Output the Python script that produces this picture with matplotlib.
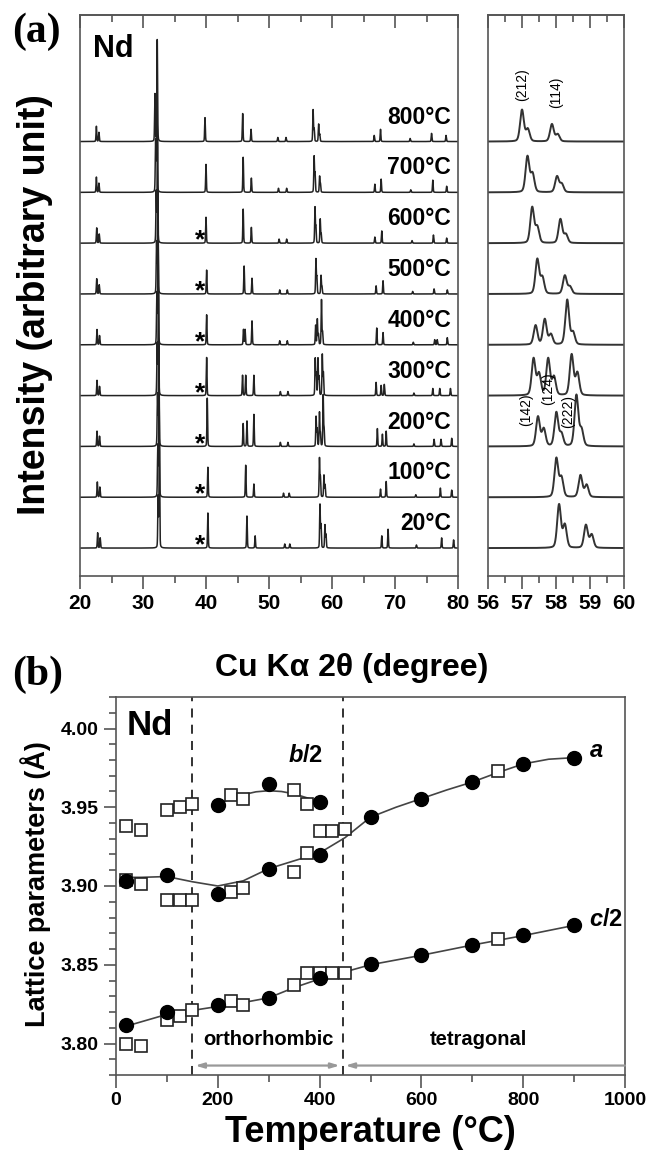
import numpy as np
import matplotlib
matplotlib.use("Agg")
import matplotlib.pyplot as plt
from matplotlib.ticker import MultipleLocator

plt.rcParams["font.family"] = ["Liberation Sans", "DejaVu Sans"]
plt.rcParams["font.weight"] = "bold"
plt.rcParams["mathtext.fontset"] = "custom"
plt.rcParams["mathtext.it"] = "Liberation Sans:italic:bold"
plt.rcParams["mathtext.rm"] = "Liberation Sans:bold"

# ---- (a) XRD patterns: peak position (deg 2theta), height (units of trace offset)
temps = ["20", "100", "200", "300", "400", "500", "600", "700", "800"]

peaks_20 = [(22.8, .3), (23.2, .2), (32.4, 1.0), (32.6, 2.0), (40.3, .69), (46.5, .63),
            (47.8, .24), (52.5, .08), (53.3, .08), (58.09, .85), (58.26, .45), (58.88, .45),
            (59.05, .26), (67.9, .24), (68.9, .37), (73.4, .06), (77.4, .2), (79.3, .16)]
peaks_100 = [(22.75, .3), (23.15, .2), (32.35, 1.0), (32.55, 2.0), (40.3, .59), (46.3, .63),
             (47.6, .26), (52.3, .08), (53.2, .08), (58.01, .76), (58.16, .38), (58.72, .43),
             (58.9, .24), (67.7, .16), (68.6, .31), (73.3, .05), (77.2, .18), (79.0, .14)]
peaks_200 = [(22.7, .3), (23.1, .2), (32.3, 1.0), (32.5, 2.0), (40.2, .95), (45.9, .45),
             (46.5, .5), (47.6, .63), (51.8, .08), (53.0, .08), (57.47, .58), (57.64, .34),
             (58.01, .66), (58.16, .24), (58.6, 1.0), (58.75, .32), (67.2, .35), (68.0, .24),
             (68.6, .3), (73.0, .05), (76.2, .14), (77.3, .14), (79.0, .16)]
peaks_300 = [(22.7, .3), (23.1, .18), (32.25, 1.0), (32.45, 2.0), (40.1, .75), (45.8, .4),
             (46.3, .4), (47.6, .4), (51.8, .08), (53.0, .08), (57.34, .72), (57.5, .42),
             (57.77, .72), (57.94, .36), (58.46, .8), (58.63, .44), (67.0, .26), (67.8, .2),
             (68.3, .22), (73.0, .05), (76.0, .14), (77.1, .14), (78.8, .14)]
peaks_400 = [(22.7, .3), (23.1, .18), (32.2, 1.0), (32.4, 2.0), (40.1, .59), (45.95, .3),
             (46.2, .3), (47.3, .47), (51.7, .08), (52.9, .08), (57.4, .38), (57.67, .5),
             (57.85, .2), (58.33, .88), (58.5, .24), (67.1, .33), (68.1, .24), (72.9, .05),
             (76.3, .1), (76.7, .1), (78.3, .14)]
peaks_500 = [(22.65, .3), (23.05, .18), (32.15, 1.0), (32.35, 2.0), (40.1, .47), (46.05, .55),
             (47.3, .31), (51.7, .08), (52.9, .08), (57.45, .68), (57.6, .32), (58.26, .36),
             (58.41, .14), (67.0, .16), (68.1, .26), (72.8, .05), (76.2, .1), (78.3, .08)]
peaks_600 = [(22.65, .3), (23.05, .18), (32.1, 1.0), (32.3, 2.0), (40.0, .51), (45.9, .67),
             (47.2, .31), (51.6, .08), (52.8, .08), (57.3, .7), (57.45, .31), (58.13, .47),
             (58.29, .17), (66.8, .12), (67.9, .24), (72.7, .05), (76.1, .16), (78.2, .1)]
peaks_700 = [(22.6, .3), (23.0, .18), (32.0, 1.0), (32.2, 2.0), (40.0, .55), (45.9, .69),
             (47.2, .28), (51.5, .08), (52.8, .08), (57.16, .7), (57.31, .36), (58.03, .31),
             (58.17, .16), (66.8, .16), (67.8, .26), (72.5, .05), (76.0, .24), (78.2, .12)]
peaks_800 = [(22.6, .3), (23.0, .18), (31.9, .93), (32.26, 2.0), (39.84, .47), (45.82, .55),
             (47.15, .24), (51.4, .08), (52.7, .08), (57.0, .62), (57.17, .24), (57.88, .34),
             (58.05, .14), (66.7, .12), (67.7, .24), (72.4, .06), (75.8, .16), (78.1, .12)]
all_peaks = [peaks_20, peaks_100, peaks_200, peaks_300, peaks_400,
             peaks_500, peaks_600, peaks_700, peaks_800]
star_temps = ["20", "100", "200", "300", "400", "500", "600"]

hkl_labels = ["(212)", "(114)", "(142)", "(124)", "(222)"]
hkl_x = [57.0, 58.0, 57.13, 57.77, 58.37]
hkl_y = [9.12, 8.96, 2.73, 3.14, 2.69]

# ---- (b) lattice parameters vs temperature
a_T = [20, 100, 200, 300, 400, 500, 600, 700, 800, 900]
a_val = [3.903, 3.907, 3.895, 3.911, 3.9195, 3.9437, 3.9555, 3.966, 3.9775, 3.9815]
b_T = [200, 300, 400]
b_val = [3.9517, 3.9647, 3.9534]
c_T = [20, 100, 200, 300, 400, 500, 600, 700, 800, 900]
c_val = [3.812, 3.8198, 3.8246, 3.8288, 3.8418, 3.8504, 3.8561, 3.8624, 3.8687, 3.8754]

sq_b_T = [20, 50, 100, 125, 150, 225, 250, 350, 375, 400, 425, 450, 750]
sq_b_val = [3.938, 3.9353, 3.948, 3.950, 3.952, 3.958, 3.9555, 3.9607, 3.952,
            3.935, 3.9347, 3.936, 3.9733]
sq_a_T = [20, 50, 100, 125, 150, 225, 250, 350, 375]
sq_a_val = [3.904, 3.901, 3.8908, 3.8908, 3.8912, 3.896, 3.8985, 3.9086, 3.9212]
sq_c_T = [20, 50, 100, 125, 150, 225, 250, 350, 375, 400, 425, 450, 750]
sq_c_val = [3.7994, 3.7983, 3.8151, 3.8172, 3.821, 3.8267, 3.8246, 3.8372, 3.8445,
            3.8445, 3.8445, 3.8445, 3.8662]

a_fit_T = [20, 50, 100, 150, 200, 250, 300, 350, 400, 450, 500, 550, 600, 650, 700,
           750, 800, 850, 900]
a_fit = [3.9055, 3.9055, 3.906, 3.9027, 3.900, 3.9033, 3.911, 3.916, 3.921, 3.9307,
         3.9437, 3.950, 3.9555, 3.961, 3.966, 3.972, 3.9775, 3.9805, 3.9815]
b_fit_T = [200, 225, 250, 275, 300, 325, 350, 375, 400]
b_fit = [3.9517, 3.9555, 3.958, 3.9598, 3.9605, 3.960, 3.9585, 3.956, 3.9534]
c_fit_T = [20, 100, 150, 200, 250, 300, 350, 400, 450, 500, 600, 700, 800, 900]
c_fit = [3.811, 3.8185, 3.821, 3.8235, 3.826, 3.829, 3.8355, 3.841, 3.8455, 3.850,
         3.856, 3.8625, 3.8685, 3.875]

T_ortho = 150
T_tetra = 445


def pattern(x, peaks, fwhm=0.13):
    y = np.zeros_like(x)
    s = fwhm / 2.3548
    g = fwhm / 2
    for pos, h in peaks:
        gau = np.exp(-0.5 * ((x - pos) / s) ** 2)
        lor = 1 / (1 + ((x - pos) / g) ** 2)
        y += h * (0.75 * gau + 0.25 * lor)
    return y


W, H = 649, 1157
fig = plt.figure(figsize=(W / 100, H / 100), dpi=100)
spc = "#555555"
ax1 = fig.add_axes([80 / W, 1 - 576 / H, 378 / W, 561 / H])
ax2 = fig.add_axes([488 / W, 1 - 576 / H, 136 / W, 561 / H])
ax3 = fig.add_axes([116 / W, 1 - 1075 / H, 509 / W, 378 / H])

xl = np.linspace(20, 80, 6001)
xr = np.linspace(56, 60, 2001)
for i, pk in enumerate(all_peaks):
    ax1.plot(xl, i + pattern(xl, pk), color="#222222", lw=1.1)
    ax2.plot(xr, i + pattern(xr, pk), color="#333333", lw=1.4)
    ax1.text(78.9, i + 0.48, temps[i] + "°C", ha="right", va="center", fontsize=16.5)
    if temps[i] in star_temps:
        ax1.text(39.1, i + 0.05, "*", ha="center", va="center", fontsize=19)
ax1.text(22.1, 9.83, "Nd", ha="left", va="center", fontsize=22)
for lab, hx, hy in zip(hkl_labels, hkl_x, hkl_y):
    ax2.text(hx, hy, lab, rotation=90, ha="center", va="center", fontsize=10,
             fontweight="normal")

for ax, lim, maj, mnr in [(ax1, (20, 80), 10, 5), (ax2, (56, 60), 1, 0.5)]:
    ax.set_xlim(*lim)
    ax.set_ylim(-0.55, 10.49)
    ax.set_yticks([])
    ax.xaxis.set_major_locator(MultipleLocator(maj))
    ax.xaxis.set_minor_locator(MultipleLocator(mnr))
    ax.tick_params(axis="x", which="major", direction="out", length=9, width=1.2,
                   color=spc, labelsize=15, pad=4)
    ax.tick_params(axis="x", which="minor", direction="out", length=5, width=1.2, color=spc)
    top = ax.secondary_xaxis("top")
    top.xaxis.set_major_locator(MultipleLocator(maj))
    top.xaxis.set_minor_locator(MultipleLocator(mnr))
    top.tick_params(axis="x", which="major", direction="in", length=9, width=1.2,
                    color=spc, labeltop=False)
    top.tick_params(axis="x", which="minor", direction="in", length=5, width=1.2, color=spc)
    for sp in list(ax.spines.values()) + list(top.spines.values()):
        sp.set_color(spc)
        sp.set_linewidth(1.2)

# ---- panel (b)
ax3.plot(a_fit_T, a_fit, color="#444444", lw=1.2, zorder=2)
ax3.plot(b_fit_T, b_fit, color="#444444", lw=1.2, zorder=2)
ax3.plot(c_fit_T, c_fit, color="#444444", lw=1.2, zorder=2)
for T, v in [(sq_b_T, sq_b_val), (sq_a_T, sq_a_val), (sq_c_T, sq_c_val)]:
    ax3.plot(T, v, ls="none", marker="s", ms=8.5, mfc="white", mec="#222222",
             mew=1.2, zorder=3)
for T, v in [(a_T, a_val), (b_T, b_val), (c_T, c_val)]:
    ax3.plot(T, v, ls="none", marker="o", ms=10, mfc="black", mec="black", zorder=4)

for T in (T_ortho, T_tetra):
    ax3.axvline(T, color="#222222", lw=1.3, ls=(0, (5, 4)), zorder=1)
ax3.annotate("", xy=(T_ortho, 3.786), xytext=(T_tetra, 3.786),
             arrowprops=dict(arrowstyle="<|-|>,head_length=0.5,head_width=0.15",
                             color="#999999", lw=1.6, shrinkA=2, shrinkB=2))
ax3.annotate("", xy=(T_tetra, 3.786), xytext=(1000, 3.786),
             arrowprops=dict(arrowstyle="-|>,head_length=0.5,head_width=0.15",
                             color="#999999", lw=1.6, shrinkA=0, shrinkB=2))
ax3.text(300, 3.8025, "orthorhombic", ha="center", va="center", fontsize=14.5)
ax3.text(712, 3.8025, "tetragonal", ha="center", va="center", fontsize=14.5)
ax3.text(20, 4.002, "Nd", ha="left", va="center", fontsize=25)
ax3.text(930, 3.986, r"$\mathit{a}$", ha="left", va="center", fontsize=17)
ax3.text(372, 3.983, r"$\mathit{b}$/2", ha="center", va="center", fontsize=17)
ax3.text(930, 3.879, r"$\mathit{c}$/2", ha="left", va="center", fontsize=17)

ax3.set_xlim(0, 1000)
ax3.set_ylim(3.78, 4.02)
ax3.xaxis.set_major_locator(MultipleLocator(200))
ax3.xaxis.set_minor_locator(MultipleLocator(100))
ax3.yaxis.set_major_locator(MultipleLocator(0.05))
ax3.yaxis.set_minor_locator(MultipleLocator(0.01))
ax3.yaxis.set_major_formatter(matplotlib.ticker.FormatStrFormatter("%.2f"))
ax3.tick_params(which="major", direction="out", length=9, width=1.2, color=spc,
                labelsize=14)
ax3.tick_params(which="minor", direction="out", length=5, width=1.2, color=spc)
for sp in ax3.spines.values():
    sp.set_color(spc)
    sp.set_linewidth(1.2)

# ---- figure labels
fig.text(35 / W, 1 - 305 / H, "Intensity (arbitrary unit)", rotation=90, ha="center",
         va="center", fontsize=27)
fig.text(352 / W, 1 - 668 / H, "Cu Kα 2θ (degree)", ha="center", va="center", fontsize=23)
fig.text(36 / W, 1 - 884 / H, "Lattice parameters (Å)", rotation=90, ha="center",
         va="center", fontsize=19.5)
fig.text(370 / W, 1 - 1132 / H, "Temperature (°C)", ha="center", va="center", fontsize=26)
fig.text(12 / W, 1 - 32 / H, "(a)", ha="left", va="center", fontsize=30,
         family="Liberation Serif")
fig.text(12 / W, 1 - 675 / H, "(b)", ha="left", va="center", fontsize=30,
         family="Liberation Serif")

fig.savefig("out.png", dpi=100)
